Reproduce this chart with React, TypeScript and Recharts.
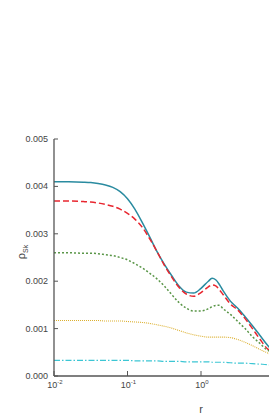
import React from 'react';
import { ComposedChart, Line, XAxis, YAxis } from 'recharts';

// log10(r) sample positions
const logR = [-2.0, -1.8, -1.6, -1.5, -1.4, -1.3, -1.2, -1.1, -1.0, -0.9, -0.8, -0.7, -0.6, -0.5, -0.4, -0.3, -0.2, -0.1, 0.0, 0.1, 0.15, 0.2, 0.25, 0.3, 0.4, 0.5, 0.6, 0.7, 0.8, 0.9, 0.94];

const teal = [0.00410, 0.00410, 0.00409, 0.00408, 0.00406, 0.00403, 0.00398, 0.00389, 0.00374, 0.00352, 0.00324, 0.00294, 0.00263, 0.00236, 0.00212, 0.00190, 0.00177, 0.00175, 0.00185, 0.00200, 0.00206, 0.00203, 0.00193, 0.00180, 0.00158, 0.00143, 0.00125, 0.00106, 0.00086, 0.00066, 0.00059];
const red = [0.00369, 0.00369, 0.00368, 0.00367, 0.00365, 0.00362, 0.00358, 0.00352, 0.00343, 0.00331, 0.00314, 0.00290, 0.00263, 0.00234, 0.00209, 0.00187, 0.00173, 0.00168, 0.00176, 0.00188, 0.00192, 0.00190, 0.00182, 0.00172, 0.00152, 0.00139, 0.00121, 0.00100, 0.00078, 0.00058, 0.00053];
const green = [0.00260, 0.00260, 0.00259, 0.00259, 0.00258, 0.00256, 0.00254, 0.00250, 0.00245, 0.00237, 0.00228, 0.00217, 0.00205, 0.00190, 0.00172, 0.00155, 0.00143, 0.00137, 0.00137, 0.00142, 0.00146, 0.00149, 0.00149, 0.00142, 0.00130, 0.00115, 0.00100, 0.00083, 0.00069, 0.00055, 0.00052];
const yellow = [0.00117, 0.00117, 0.00117, 0.00117, 0.00117, 0.00116, 0.00116, 0.00116, 0.00115, 0.00114, 0.00113, 0.00111, 0.00108, 0.00105, 0.00101, 0.00096, 0.00091, 0.00087, 0.00084, 0.00082, 0.00082, 0.00082, 0.00082, 0.00082, 0.00081, 0.00077, 0.00071, 0.00064, 0.00056, 0.00049, 0.00046];
const cyan = [0.00033, 0.00033, 0.00033, 0.00033, 0.00033, 0.00033, 0.00033, 0.00033, 0.00033, 0.00032, 0.00032, 0.00032, 0.00032, 0.00031, 0.00031, 0.00031, 0.00030, 0.00030, 0.00030, 0.00030, 0.00029, 0.00029, 0.00029, 0.00029, 0.00028, 0.00027, 0.00027, 0.00026, 0.00025, 0.00024, 0.00023];

const xTicks = [0.01, 0.1, 1];
const xTickExp = ['-2', '-1', '0'];
const yTicks = [0, 0.001, 0.002, 0.003, 0.004, 0.005];

const data = logR.map((lr, i) => ({
  r: Math.pow(10, lr),
  teal: teal[i],
  red: red[i],
  green: green[i],
  yellow: yellow[i],
  cyan: cyan[i],
}));

const AXIS = '#555555';
const FONT = '"Liberation Sans", Arial, sans-serif';

const BottomTick = (props: any) => {
  const { x, y, payload } = props;
  const idx = xTicks.indexOf(payload.value);
  const exp = idx >= 0 ? xTickExp[idx] : '';
  return (
    <g>
      <line x1={x} y1={y} x2={x} y2={y - 5} stroke={AXIS} strokeWidth={1} />
      <text x={x + 1} y={y + 12} textAnchor="middle" fontSize={9} fill="#444" fontFamily={FONT}>
        10<tspan dy={-4} fontSize={6}>{exp}</tspan>
      </text>
    </g>
  );
};

const TopTick = (props: any) => {
  const { x, y } = props;
  return <line x1={x} y1={y} x2={x} y2={y + 5} stroke={AXIS} strokeWidth={1} />;
};

const LeftTick = (props: any) => {
  const { x, y, payload } = props;
  return (
    <g>
      <line x1={x} y1={y} x2={x + 4} y2={y} stroke={AXIS} strokeWidth={1} />
      <text x={x - 6} y={y + 3} textAnchor="end" fontSize={9} fill="#444" fontFamily={FONT}>
        {payload.value.toFixed(3)}
      </text>
    </g>
  );
};

const YLabel = () => {
  const cx = 25;
  const cy = 252;
  return (
    <text x={cx} y={cy} transform={`rotate(-90 ${cx} ${cy})`} textAnchor="middle" fontSize={11} fill="#444" fontFamily={FONT}>
      ρ<tspan dy={3} fontSize={7}>Sk</tspan>
    </text>
  );
};

const XLabel = (props: any) => {
  const vb = props.viewBox || {};
  const cx = (vb.x ?? 54) + (vb.width ?? 294) / 2;
  return (
    <text x={cx} y={413} textAnchor="middle" fontSize={11} fill="#444" fontFamily={FONT}>
      r
    </text>
  );
};

export default function App() {
  return (
    <div style={{ position: 'absolute', left: 0, top: 0, width: 269, height: 420, overflow: 'hidden', background: '#fff' }}>
      <ComposedChart width={348} height={420} data={data} margin={{ top: 139, right: 0, left: 0, bottom: 0 }}>
        <XAxis
          dataKey="r"
          type="number"
          scale="log"
          domain={[0.01, 100]}
          allowDataOverflow
          ticks={xTicks}
          height={44}
          tickSize={0}
          tickMargin={0}
          axisLine={{ stroke: AXIS, strokeWidth: 1.3 }}
          tick={<BottomTick />}
          interval={0}
          label={<XLabel />}
        />
        <XAxis
          xAxisId="top"
          orientation="top"
          dataKey="r"
          type="number"
          scale="log"
          domain={[0.01, 100]}
          allowDataOverflow
          ticks={xTicks}
          height={0}
          tickSize={0}
          tickMargin={0}
          axisLine={{ stroke: AXIS, strokeWidth: 1 }}
          tick={<TopTick />}
          interval={0}
        />
        <YAxis
          type="number"
          domain={[0, 0.005]}
          ticks={yTicks}
          width={54}
          tickSize={0}
          tickMargin={0}
          axisLine={{ stroke: AXIS, strokeWidth: 1.3 }}
          tick={<LeftTick />}
          interval={0}
          label={<YLabel />}
        />
        <Line dataKey="teal" type="monotone" stroke="#2a8ba0" strokeWidth={1.5} dot={false} isAnimationActive={false} />
        <Line dataKey="red" type="monotone" stroke="#e8262f" strokeWidth={1.5} strokeDasharray="6 3" dot={false} isAnimationActive={false} />
        <Line dataKey="green" type="monotone" stroke="#5a9648" strokeWidth={1.5} strokeDasharray="2 2" dot={false} isAnimationActive={false} />
        <Line dataKey="yellow" type="monotone" stroke="#dcb030" strokeWidth={1.1} strokeDasharray="1 1" dot={false} isAnimationActive={false} />
        <Line dataKey="cyan" type="monotone" stroke="#3cc6d4" strokeWidth={1.2} strokeDasharray="6 2 1.5 2" dot={false} isAnimationActive={false} />
      </ComposedChart>
    </div>
  );
}
